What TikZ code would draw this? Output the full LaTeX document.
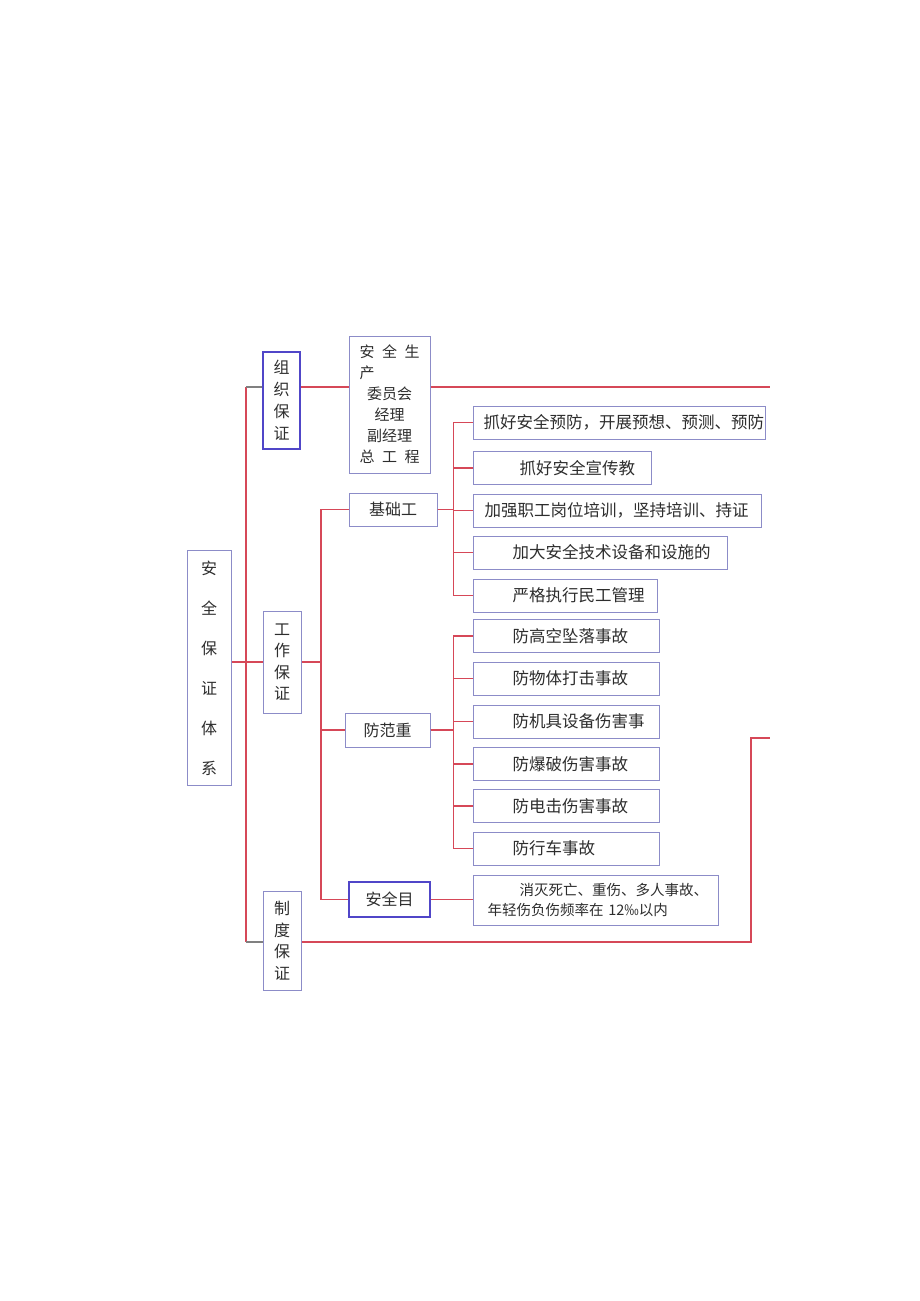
\documentclass[tikz,border=0pt]{standalone}
\usepackage{fontspec}
\newfontfamily\cjk{Noto Sans CJK SC}
\definecolor{linkred}{RGB}{214,72,88}
\definecolor{boxline}{RGB}{140,140,200}
\definecolor{keyline}{RGB}{80,70,200}
\definecolor{txt}{RGB}{45,45,45}
\newcommand{\gap}{\hspace{0.5em}}

\tikzset{
  box/.style={draw=boxline, line width=1pt, inner sep=0pt, text=txt,
    font=\cjk\fontsize{16}{16}\selectfont},
  keybox/.style={box, draw=keyline, line width=1.6pt},
  col/.style={align=center, font=\cjk\fontsize{16}{#1}\selectfont},
  item/.style={box, anchor=west, align=left, text width=#1pt, minimum height=33,
    font=\cjk\fontsize{16.5}{20}\selectfont},
  link/.style={draw=linkred, line width=1.4pt},
  tick/.style={draw=gray, line width=1.4pt},
}

\begin{document}
\begin{tikzpicture}[x=1pt, y=-1pt]
  \useasboundingbox (0,0) rectangle (920,1301);

  \node[box, minimum width=44, minimum height=235, col=40] (root) at (209,668) {安\\全\\保\\证\\体\\系};

  \node[keybox, minimum width=37, minimum height=97, col=22] (zuzhi) at (281.5,400.5) {组\\织\\保\\证};
  \node[box, minimum width=38, minimum height=102, col=21.5] (gongzuo) at (282,662) {工\\作\\保\\证};
  \node[box, minimum width=38, minimum height=99, col=21.5] (zhidu) at (282,940.5) {制\\度\\保\\证};

  \node[box, minimum width=81, minimum height=137, align=center,
    font=\cjk\fontsize{15}{21}\selectfont] (weiyuan) at (389.5,404.5)
    {安\gap 全\gap 生\\\makebox[60pt][l]{产}\\委员会\\经理\\副经理\\总\gap 工\gap 程};

  \node[box, minimum width=88, minimum height=33] (jichu) at (393,509.5) {基础工};
  \node[box, minimum width=85, minimum height=34] (fangfan) at (387.5,730) {防范重};
  \node[keybox, minimum width=81, minimum height=35] (mubiao) at (389.5,899.5) {安全目};

  \foreach \n/\y/\w/\i/\t in {
      1/422.5/292/10/{抓好安全预防，开展预想、预测、预防},
      2/468/178/46/{抓好安全宣传教},
      3/510.5/288/11/{加强职工岗位培训，坚持培训、持证},
      4/552.5/254/39/{加大安全技术设备和设施的},
      5/595.5/184/39/{严格执行民工管理}} {
    \node[item=\w] (jc-\n) at (473,\y) {\hspace*{\i pt}\t};
  }

  \foreach \n/\y/\t in {
      1/636/防高空坠落事故, 2/678.5/防物体打击事故, 3/721.5/防机具设备伤害事,
      4/764/防爆破伤害事故, 5/806/防电击伤害事故, 6/848.5/防行车事故} {
    \node[item=186] (ff-\n) at (473,\y) {\hspace*{39pt}\t};
  }

  \node[item=245, minimum height=50, font=\cjk\fontsize{14.5}{20}\selectfont] (goal) at (473,900)
    {\hspace*{46pt}消灭死亡、重伤、多人事故、\\\hspace*{14pt}年轻伤负伤频率在 12‰以内};

  % main bus
  \coordinate (bus-top) at (246,387);
  \coordinate (bus-bot) at (246,942);
  \coordinate (out-top) at (770,387);
  \coordinate (turn) at (751,738);
  \coordinate (out-bot) at (770,738);
  \coordinate (wk) at (321,662);

  \draw[link] (bus-top) -- (bus-bot);
  \draw[tick] (bus-top) -- (bus-top -| zuzhi.west);
  \draw[link] (bus-top -| zuzhi.east) -- (bus-top -| weiyuan.west);
  \draw[link] (bus-top -| weiyuan.east) -- (out-top);
  \draw[link] (root.east |- gongzuo.west) -- (gongzuo.west);
  \draw[tick] (bus-bot) -- (bus-bot -| zhidu.west);
  \draw[link] (bus-bot -| zhidu.east) -| (turn) -- (out-bot);

  % work branch
  \draw[link] (gongzuo.east) -- (wk);
  \draw[link] (jichu.west) -| (wk) |- (mubiao.west);
  \draw[link] (fangfan.west) -- (fangfan.west -| wk);

  \foreach \n in {1,...,5}
    \draw[link] (jichu.east) -- ++(16,0) |- (jc-\n.west);
  \foreach \n in {1,...,6}
    \draw[link] (fangfan.east) -- ++(23,0) |- (ff-\n.west);
  \draw[link] (mubiao.east) -- (mubiao.east -| goal.west);

\end{tikzpicture}
\end{document}
